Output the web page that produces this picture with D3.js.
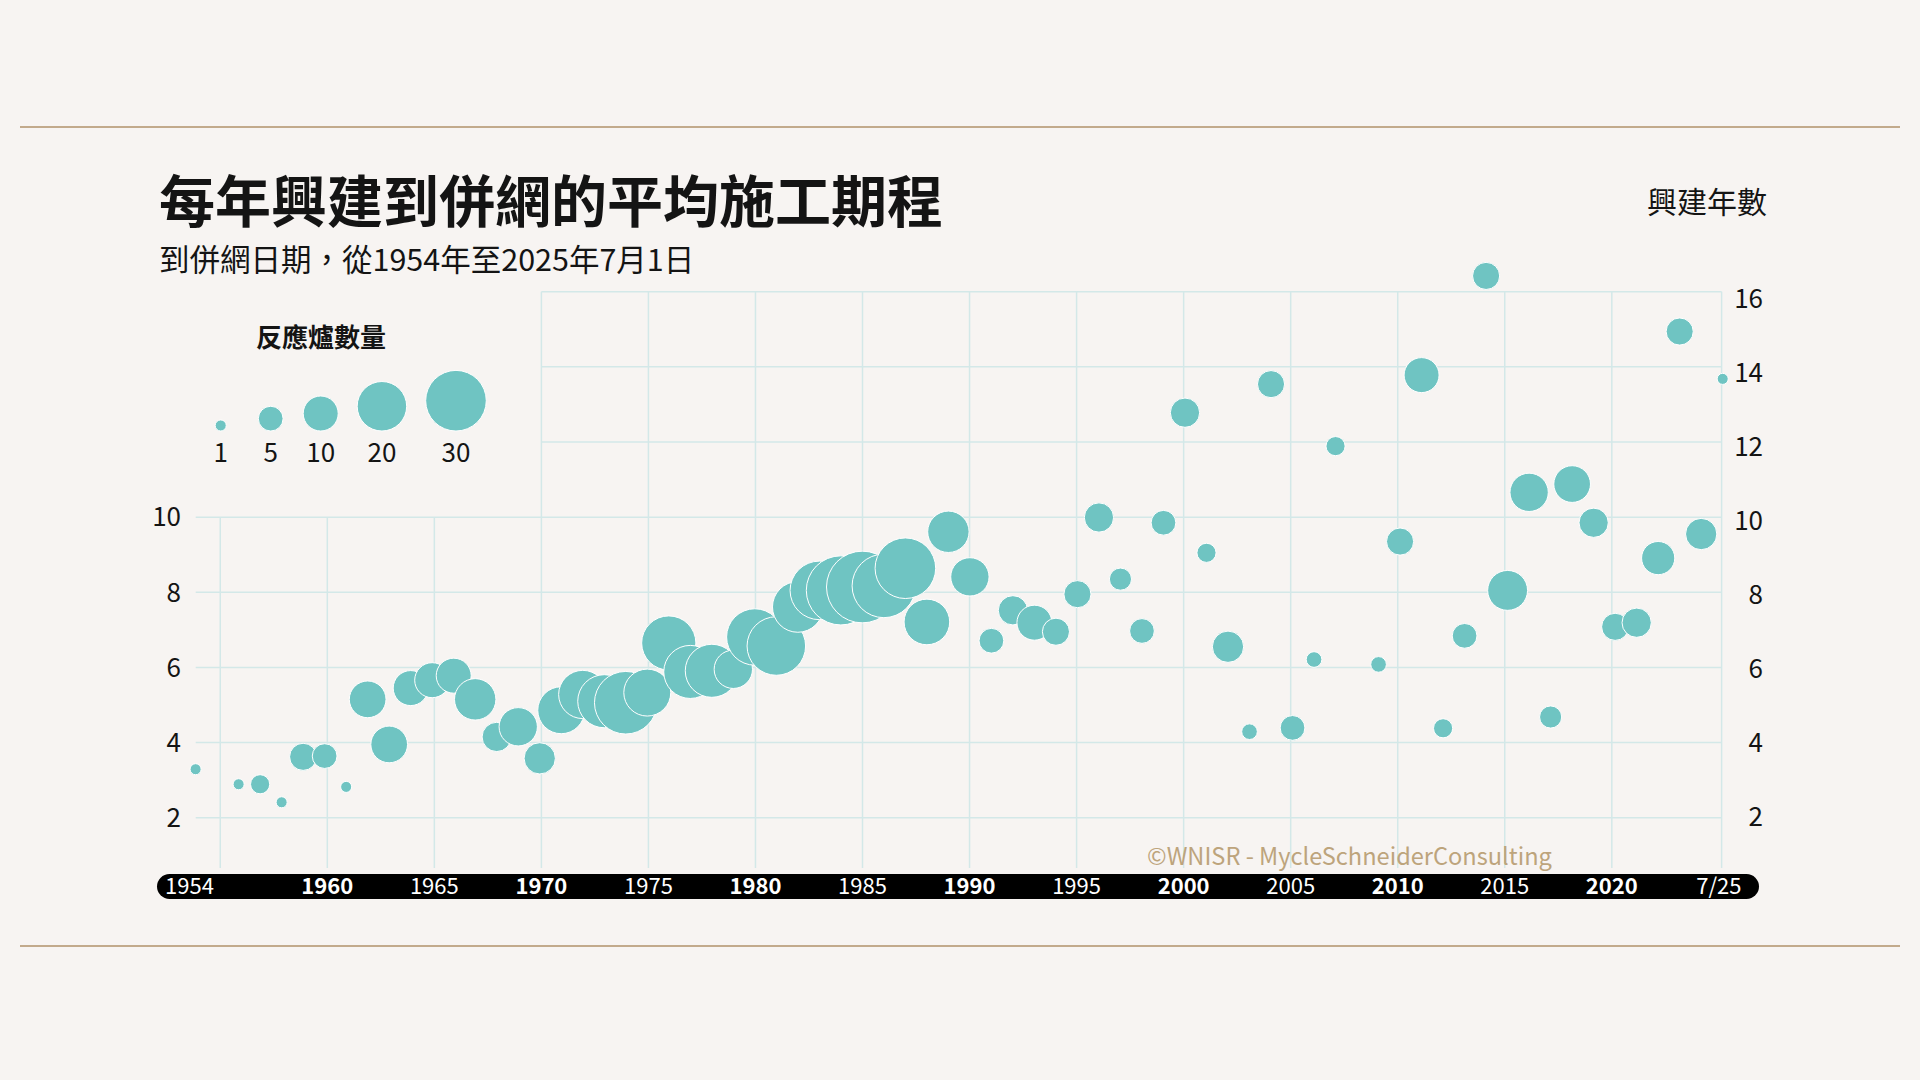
<!DOCTYPE html>
<html>
<head>
<meta charset="utf-8">
<script src="https://cdn.jsdelivr.net/npm/d3@7"></script>
<style>
  body { margin: 0; background: #f7f4f2; }
  svg { display: block; font-family: "Noto Sans CJK TC", "Noto Sans", sans-serif; }
</style>
</head>
<body>
<svg width="1920" height="1080"></svg>
<script>
// grid connection year, mean construction time (years), number of reactors
var years = [1954, 1956, 1957, 1958, 1959, 1960, 1961, 1962, 1963, 1964,
  1965, 1966, 1967, 1968, 1969, 1970, 1971, 1972, 1973, 1974,
  1975, 1976, 1977, 1978, 1979, 1980, 1981, 1982, 1983, 1984,
  1985, 1986, 1987, 1988, 1989, 1990, 1991, 1992, 1993, 1994,
  1995, 1996, 1997, 1998, 1999, 2000, 2001, 2002, 2003, 2004,
  2005, 2006, 2007, 2009, 2010, 2011, 2012, 2013, 2014, 2015,
  2016, 2017, 2018, 2019, 2020, 2021, 2022, 2023, 2024, 2025];
var buildYears = [3.29, 2.89, 2.89, 2.41, 3.62, 3.64, 2.82, 5.15, 3.95, 5.45,
  5.66, 5.78, 5.15, 4.15, 4.42, 3.58, 4.86, 5.28, 5.10, 5.06,
  5.33, 6.65, 5.88, 5.91, 5.95, 6.81, 6.57, 7.61, 8.05, 8.05,
  8.14, 8.17, 8.64, 7.21, 9.61, 8.41, 6.71, 7.52, 7.19, 6.95,
  7.95, 9.99, 8.35, 6.97, 9.85, 12.78, 9.05, 6.55, 4.29, 13.54,
  4.39, 6.21, 11.89, 6.08, 9.35, 13.78, 4.38, 6.84, 16.42, 8.05,
  10.66, 4.68, 10.88, 9.85, 7.08, 7.19, 8.91, 14.94, 9.55, 13.68];
var reactors = [1, 1, 3, 1, 6, 5, 1, 11, 11, 10,
  10, 10, 14, 7, 12, 8, 18, 19, 23, 32,
  18, 24, 23, 23, 12, 26, 28, 21, 28, 39,
  42, 33, 30, 17, 14, 12, 5, 7, 10, 6,
  6, 7, 4, 5, 5, 7, 3, 8, 2, 6,
  5, 2, 3, 2, 6, 10, 3, 5, 6, 13,
  12, 4, 11, 7, 6, 7, 9, 6, 8, 1];

var yTicks = [2, 4, 6, 8, 10, 12, 14, 16];
var gridYears = [1955, 1960, 1965, 1970, 1975, 1980, 1985, 1990, 1995, 2000, 2005, 2010, 2015, 2020];
var axisYears = [1954, 1960, 1965, 1970, 1975, 1980, 1985, 1990, 1995, 2000, 2005, 2010, 2015, 2020, 2025];
var axisLabels = ["1954", "1960", "1965", "1970", "1975", "1980", "1985", "1990", "1995", "2000", "2005", "2010", "2015", "2020", "7/25"];
var boldYears = [1960, 1970, 1980, 1990, 2000, 2010, 2020];
var legendValues = [1, 5, 10, 20, 30];

var data = years.map(function(d, i) {
  return { year: d, value: buildYears[i], count: reactors[i] };
});

var svg = d3.select("svg");
var ink = "#141414";
var teal = "#6fc4c2";
var grid = "#d3e8e8";
var tan = "#c2aa8c";

var x = d3.scaleLinear().domain([1960, 2020]).range([327.3, 1611.8]);
var xDot = d3.scaleLinear().domain([1954, 2025]).range([195.6, 1722.7]);
var y = d3.scaleLinear().domain([2, 16]).range([817.7, 291.7]);
// right hand labels sit on a slightly tighter spacing than the grid
var yRight = d3.scaleLinear().domain([2, 16]).range([817, 299]);
var r = d3.scaleSqrt().domain([0, 30]).range([0, 30.3]);

var gridLeft = 195.7, gridRight = x(2025.13), gridBottom = 868;

// rules top and bottom
svg.selectAll("line.rule")
  .data([127, 946])
  .enter().append("line")
  .attr("x1", 20).attr("x2", 1900)
  .attr("y1", function(d) { return d; })
  .attr("y2", function(d) { return d; })
  .attr("stroke", tan)
  .attr("stroke-width", 2);

// titles
svg.append("text")
  .attr("x", 159).attr("y", 222)
  .attr("font-size", 56).attr("font-weight", 700)
  .attr("fill", ink)
  .text("每年興建到併網的平均施工期程");
svg.append("text")
  .attr("x", 159).attr("y", 271)
  .attr("font-size", 30.5)
  .attr("fill", ink)
  .text("到併網日期，從1954年至2025年7月1日");
svg.append("text")
  .attr("x", 1767).attr("y", 213)
  .attr("text-anchor", "end")
  .attr("font-size", 30)
  .attr("fill", ink)
  .text("興建年數");

// grid
var g = svg.append("g");
g.selectAll("line.h")
  .data(yTicks)
  .enter().append("line")
  .attr("x1", function(d) { return d > 10 ? x(1970) : gridLeft; })
  .attr("x2", gridRight)
  .attr("y1", function(d) { return y(d); })
  .attr("y2", function(d) { return y(d); })
  .attr("stroke", grid).attr("stroke-width", 1.5);
g.selectAll("line.v")
  .data(gridYears)
  .enter().append("line")
  .attr("x1", function(d) { return x(d); })
  .attr("x2", function(d) { return x(d); })
  .attr("y1", function(d) { return d < 1970 ? y(10) : y(16); })
  .attr("y2", gridBottom)
  .attr("stroke", grid).attr("stroke-width", 1.5);
g.append("line")
  .attr("x1", gridRight).attr("x2", gridRight)
  .attr("y1", y(16)).attr("y2", gridBottom)
  .attr("stroke", grid).attr("stroke-width", 1.5);

// y labels
svg.selectAll("text.yl")
  .data(yTicks.filter(function(d) { return d <= 10; }))
  .enter().append("text")
  .attr("x", 181)
  .attr("y", function(d) { return y(d); })
  .attr("dy", "0.36em")
  .attr("text-anchor", "end")
  .attr("font-size", 26)
  .attr("fill", ink)
  .text(function(d) { return d; });
svg.selectAll("text.yr")
  .data(yTicks)
  .enter().append("text")
  .attr("x", 1763)
  .attr("y", function(d) { return yRight(d); })
  .attr("dy", "0.36em")
  .attr("text-anchor", "end")
  .attr("font-size", 26)
  .attr("fill", ink)
  .text(function(d) { return d; });

// copyright
svg.append("text")
  .attr("x", 1147).attr("y", 865)
  .attr("font-size", 23.6)
  .attr("fill", "#bda47c")
  .text("©WNISR - MycleSchneiderConsulting");

// bubbles
svg.append("g").selectAll("circle")
  .data(data)
  .enter().append("circle")
  .attr("cx", function(d) { return xDot(d.year); })
  .attr("cy", function(d) { return y(d.value); })
  .attr("r", function(d) { return r(d.count); })
  .attr("fill", teal)
  .attr("stroke", "#ffffff")
  .attr("stroke-width", 1);

// time bar
svg.append("rect")
  .attr("x", 157).attr("y", 874)
  .attr("width", 1602).attr("height", 25)
  .attr("rx", 12.5)
  .attr("fill", "#000");
svg.selectAll("text.xl")
  .data(axisYears)
  .enter().append("text")
  .attr("x", function(d, i) { return i === 0 ? 165 : x(d); })
  .attr("y", 894)
  .attr("text-anchor", function(d, i) { return i === 0 ? "start" : "middle"; })
  .attr("font-size", 22)
  .attr("font-weight", function(d) { return boldYears.indexOf(d) >= 0 ? 700 : 400; })
  .attr("fill", "#fff")
  .text(function(d, i) { return axisLabels[i]; });

// legend
svg.append("text")
  .attr("x", 256).attr("y", 347)
  .attr("font-size", 26).attr("font-weight", 700)
  .attr("fill", ink)
  .text("反應爐數量");

// legend items: at least 50px apart, else circles kept 19px apart
var legX = [];
legendValues.forEach(function(d, i) {
  if (i === 0) { legX.push(220.7); return; }
  var prev = legendValues[i - 1];
  legX.push(legX[i - 1] + Math.max(50, r(prev) + r(d) + 19));
});

var leg = svg.append("g");
leg.selectAll("circle")
  .data(legendValues)
  .enter().append("circle")
  .attr("cx", function(d, i) { return legX[i]; })
  .attr("cy", function(d) { return 431 - r(d); })
  .attr("r", function(d) { return r(d); })
  .attr("fill", teal)
  .attr("stroke", "#ffffff")
  .attr("stroke-width", 1);
leg.selectAll("text")
  .data(legendValues)
  .enter().append("text")
  .attr("x", function(d, i) { return legX[i]; })
  .attr("y", 462)
  .attr("text-anchor", "middle")
  .attr("font-size", 26)
  .attr("fill", ink)
  .text(function(d) { return d; });
</script>
</body>
</html>
